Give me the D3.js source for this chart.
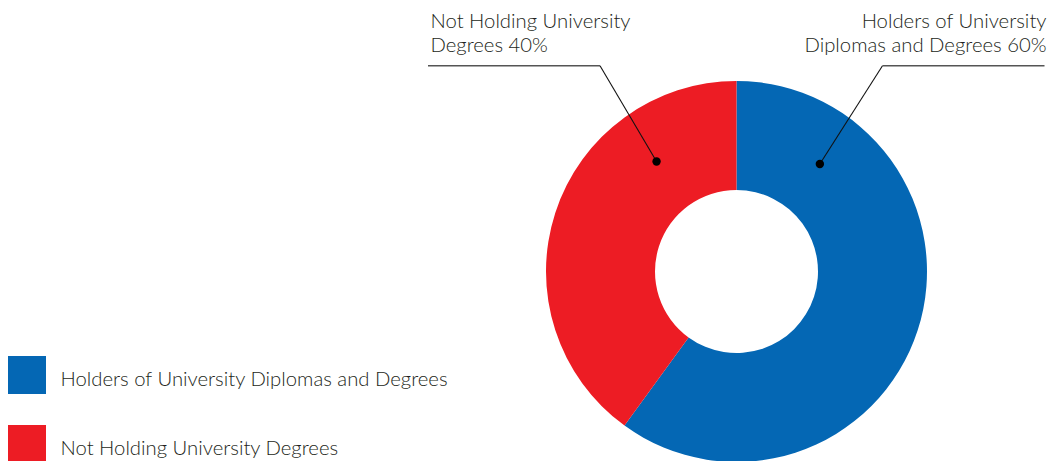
<!DOCTYPE html>
<html>
<head>
<meta charset="utf-8">
<script src="https://cdn.jsdelivr.net/npm/d3@7"></script>
<style>
  html, body { margin: 0; padding: 0; background: #fff; }
  svg { display: block; }
  text { font-family: "Lato", "Open Sans", sans-serif; font-weight: 300; fill: #231f20; }
</style>
</head>
<body>
<svg id="chart" width="1050" height="461"></svg>
<script>
// Share of staff by university qualification
const categories = ["Holders of University Diplomas and Degrees", "Not Holding University Degrees"];
const values = [60, 40];
const colors = ["#0467b4", "#ed1c24"];
const calloutLines = [
  ["Holders of University", "Diplomas and Degrees 60%"],
  ["Not Holding University", "Degrees 40%"]
];

const svg = d3.select("#chart");

// donut geometry
const cx = 736.5, cy = 271.5;
const outerR = 190.5, innerR = 81.5;
const midR = (outerR + innerR) / 2;

const pie = d3.pie().sort(null).value(d => d)(values);
const arc = d3.arc().innerRadius(innerR).outerRadius(outerR);

const g = svg.append("g").attr("transform", `translate(${cx},${cy})`);
g.selectAll("path.slice")
  .data(pie)
  .join("path")
  .attr("class", "slice")
  .attr("d", arc)
  .attr("fill", (d, i) => colors[i]);

// callouts: anchor dot inside each slice, leader line up to a horizontal rule, two-line label
const anchorFrac = [0.175, 0.75];          // position of the dot along each slice's sweep
const elbowDx = [146, -136.5];             // elbow x offset from centre
const ruleEndDx = [308, -308.5];           // end of horizontal rule
const ruleDy = -205.8;                     // y of horizontal rule relative to centre
const fontSize = 20.3;
const lineGap = 23.5;

pie.forEach((d, i) => {
  const a = d.startAngle + anchorFrac[i] * (d.endAngle - d.startAngle);
  const [px, py] = d3.pointRadial(a, midR);
  const ex = elbowDx[i], ey = ruleDy;
  const rx = ruleEndDx[i];

  g.append("line")
    .attr("x1", px).attr("y1", py).attr("x2", ex).attr("y2", ey)
    .attr("stroke", "#111").attr("stroke-width", 1.1);
  g.append("line")
    .attr("x1", ex).attr("y1", ey).attr("x2", rx).attr("y2", ey)
    .attr("stroke", "#555").attr("stroke-width", 1.6);
  g.append("circle")
    .attr("cx", px).attr("cy", py).attr("r", 4.2).attr("fill", "#000");

  const right = rx > 0;
  const t = g.append("text")
    .attr("text-anchor", right ? "end" : "start")
    .attr("font-size", fontSize);
  calloutLines[i].forEach((line, k) => {
    t.append("tspan")
      .attr("x", right ? rx + 2 : rx + 2.5)
      .attr("y", ey - 37.5 + k * lineGap)
      .text(line);
  });
});

// legend
const legend = svg.append("g").attr("transform", "translate(8,356)");
const item = legend.selectAll("g.item")
  .data(categories)
  .join("g")
  .attr("class", "item")
  .attr("transform", (d, i) => `translate(0,${i * 69})`);
item.append("rect")
  .attr("width", 38).attr("height", 38)
  .attr("fill", (d, i) => colors[i]);
item.append("text")
  .attr("x", 52.5).attr("y", 30)
  .attr("font-size", 20.3)
  .text(d => d);
</script>
</body>
</html>
